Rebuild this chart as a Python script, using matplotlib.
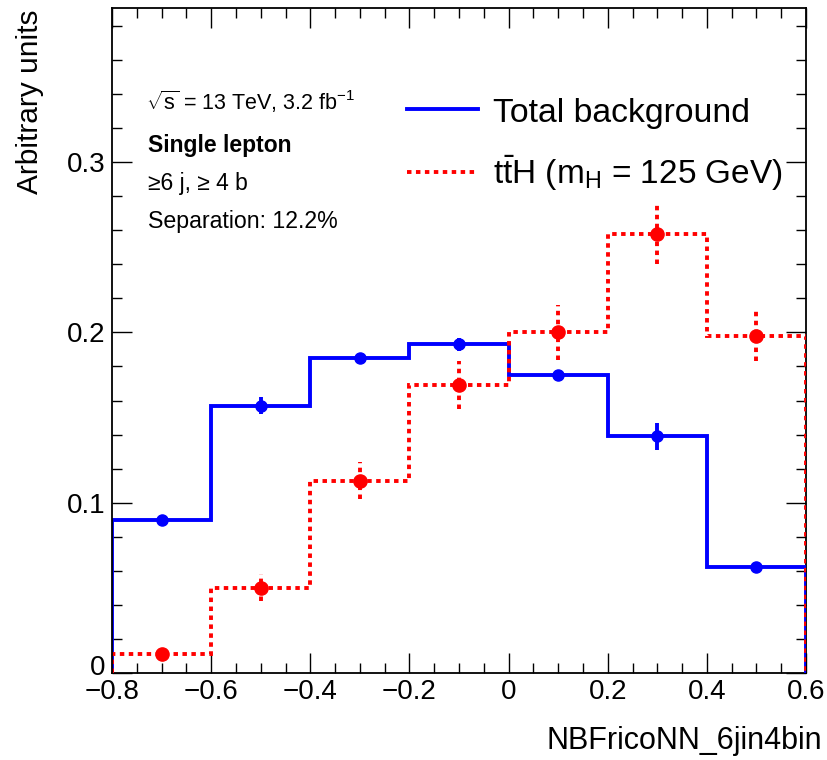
import numpy as np
import matplotlib
matplotlib.use("Agg")
import matplotlib.pyplot as plt
from matplotlib.lines import Line2D
from matplotlib.ticker import MultipleLocator
import matplotlib.transforms as mtransforms

plt.rcParams['font.family'] = ['Liberation Sans', 'DejaVu Sans']
plt.rcParams['mathtext.fontset'] = 'custom'
plt.rcParams['mathtext.rm'] = 'Liberation Sans'
plt.rcParams['mathtext.it'] = 'Liberation Sans:italic'
plt.rcParams['mathtext.bf'] = 'Liberation Sans:bold'

# ---- data ----
bin_edges = [-0.8, -0.6, -0.4, -0.2, 0.0, 0.2, 0.4, 0.6]
bkg_values = [0.090, 0.157, 0.185, 0.193, 0.175, 0.139, 0.062]
bkg_errors = [0.002, 0.005, 0.003, 0.004, 0.003, 0.008, 0.002]
sig_values = [0.011, 0.050, 0.113, 0.169, 0.200, 0.258, 0.198]
sig_errors = [0.002, 0.008, 0.011, 0.014, 0.016, 0.018, 0.015]
xticks = [-0.8, -0.6, -0.4, -0.2, 0.0, 0.2, 0.4, 0.6]
xtick_labels = ['\u22120.8', '\u22120.6', '\u22120.4', '\u22120.2', '0', '0.2', '0.4', '0.6']
yticks = [0.0, 0.1, 0.2, 0.3]
ytick_labels = ['0', '0.1', '0.2', '0.3']

W, H = 827, 760
fig = plt.figure(figsize=(W / 100, H / 100), dpi=100)
L, R, T, B = 112, 806, 8, 673
ax = fig.add_axes([L / W, 1 - B / H, (R - L) / W, (B - T) / H])

edges = np.array(bin_edges)
centers = 0.5 * (edges[:-1] + edges[1:])

blue = '#0000ff'
red = '#ff0000'
dots = (0, (1.15, 1.15))

# background
ax.stairs(bkg_values, edges, baseline=0, color=blue, lw=2.8, zorder=3)
ax.errorbar(centers, bkg_values, yerr=bkg_errors, fmt='o', color=blue, ms=8,
            elinewidth=2.8, capsize=0, zorder=4)
# signal
ax.stairs(sig_values, edges, baseline=0, color=red, lw=2.8, linestyle=dots, zorder=5)
eb = ax.errorbar(centers, sig_values, yerr=sig_errors, fmt='o', color=red, ms=9.5,
                 elinewidth=2.8, capsize=0, zorder=6)
for c in eb[2]:
    c.set_linestyle(dots)

ax.set_xlim(-0.8, 0.6)
ax.set_ylim(0, 0.3905)
ax.set_xticks(xticks)
ax.set_xticklabels(xtick_labels)
ax.set_yticks(yticks)
ax.set_yticklabels(ytick_labels)
ax.xaxis.set_minor_locator(MultipleLocator(0.05))
ax.yaxis.set_minor_locator(MultipleLocator(0.02))
ax.tick_params(which='both', direction='in', top=True, right=True, width=1.0, color='black')
ax.tick_params(which='major', length=14.5, labelsize=20)
ax.tick_params(axis='x', which='major', pad=4)
ax.tick_params(axis='y', which='major', pad=5)
ax.tick_params(which='minor', length=7.2)
for s in ax.spines.values():
    s.set_linewidth(1.3)
ax.spines['left'].set_zorder(10)

# nudge the y "0" label up slightly so it does not collide with "-0.8"
ylab0 = ax.get_yticklabels()[0]
ylab0.set_transform(ylab0.get_transform() +
                    mtransforms.ScaledTranslation(0, 6 / 72, fig.dpi_scale_trans))


def P(x, y):
    return (x / W, 1 - y / H)


# axis titles
fig.text(*P(822, 749), 'NBFricoNN_6jin4bin', ha='right', va='baseline', fontsize=22)
fig.text(*P(30, 9), 'Arbitrary units', rotation=90, ha='center', va='top', fontsize=21.5)

# annotations
fig.text(*P(146, 110), r'$\sqrt{\mathrm{s}}$ = 13 TeV, 3.2 fb$^{\mathrm{-1}}$', ha='left',
         va='baseline', fontsize=15.5)
fig.text(*P(148, 152), 'Single lepton', ha='left', va='baseline', fontsize=16.5, fontweight='bold')
fig.text(*P(148, 190), '\u22656 j, \u2265 4 b', ha='left', va='baseline', fontsize=16.5)
fig.text(*P(148, 228), 'Separation: 12.2%', ha='left', va='baseline', fontsize=16.7)

# legend (manual)
fig.add_artist(Line2D([407 / W, 478 / W], [1 - 109 / H, 1 - 109 / H], color=blue, lw=2.8))
fig.add_artist(Line2D([407 / W, 478 / W], [1 - 172 / H, 1 - 172 / H], color=red, lw=2.8,
                      linestyle=dots))
fig.text(*P(493, 122), 'Total background', ha='left', va='baseline', fontsize=24.3)
fig.text(*P(493, 184), r'$\mathrm{t\bar{t}H}$ (m$_{\mathrm{H}}$ = 125 GeV)', ha='left',
         va='baseline', fontsize=24)

fig.savefig('out.png', dpi=100)
